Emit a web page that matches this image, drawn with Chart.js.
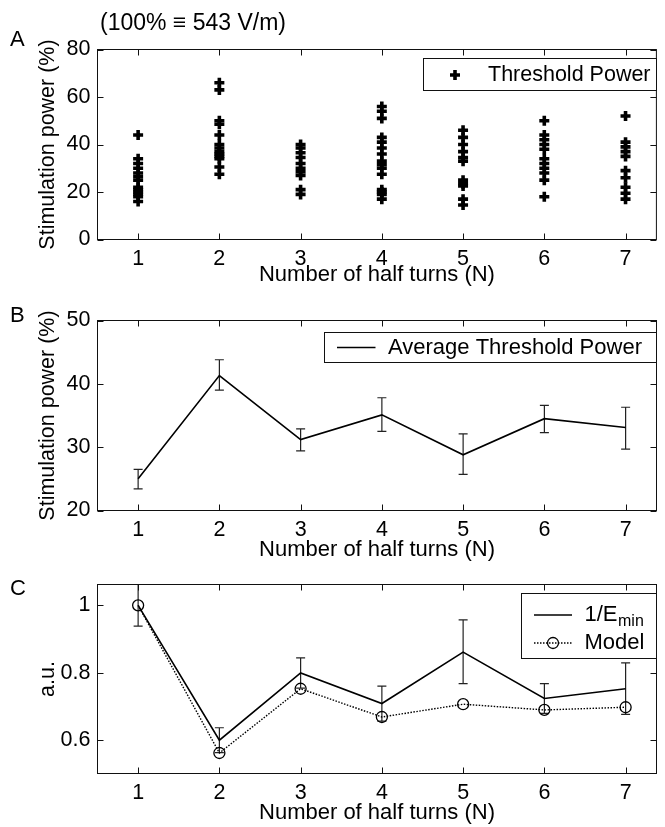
<!DOCTYPE html>
<html><head><meta charset="utf-8">
<script src="https://cdn.jsdelivr.net/npm/chart.js@4.4.1/dist/chart.umd.min.js"></script>
<style>
html,body{margin:0;padding:0;background:#fff;}
#wrap{position:relative;width:665px;height:827px;overflow:hidden;font-family:"Liberation Sans",Arial,sans-serif;color:#000;}
canvas{position:absolute;left:0;}
.lbl{position:absolute;font-size:22px;line-height:22px;white-space:nowrap;}
</style></head><body>
<div id="wrap">
<canvas id="cA" width="665" height="300" style="top:0px"></canvas>
<canvas id="cB" width="665" height="265" style="top:300px"></canvas>
<canvas id="cC" width="665" height="262" style="top:565px"></canvas>
<div class="lbl" style="left:100px;top:11px;font-size:23px">(100% ≡ 543 V/m)</div>
<div class="lbl" style="left:10px;top:28px">A</div>
<div class="lbl" style="left:10px;top:304px">B</div>
<div class="lbl" style="left:10px;top:577px">C</div>
</div>
<script>
// ---------------- DATA ----------------
const halfTurns = [1, 2, 3, 4, 5, 6, 7];
const xTickLabels = ['1', '2', '3', '4', '5', '6', '7'];

// Panel A: individual threshold powers (%) per number of half turns
const thresholdN1 = [44, 34, 32, 30, 28, 26.5, 25, 22, 21, 20, 19, 18, 16];
const thresholdN2 = [66, 63, 50, 48.5, 44, 40, 38.5, 37, 36, 35, 34, 30.5, 27.5];
const thresholdN3 = [40, 38.5, 36.5, 34.5, 32, 30, 28.5, 27, 21, 19];
const thresholdN4 = [56, 54, 51, 43, 41, 38.5, 36, 33, 31.5, 30, 27.5, 21, 20, 19, 17];
const thresholdN5 = [46, 43, 40, 37, 34.5, 33, 25, 23.5, 22.5, 17, 14.5];
const thresholdN6 = [50, 44, 42, 40, 38, 34, 32, 30, 28, 25, 18];
const thresholdN7 = [52, 41, 39, 37, 35, 29, 26, 22, 19.5, 17];
const yTicksA = [0, 20, 40, 60, 80];
const yTickLabelsA = ['0', '20', '40', '60', '80'];

// Panel B: average threshold power with error bars
const avgPower     = [25.0, 41.3, 31.2, 35.1, 28.8, 34.5, 33.1];
const avgPowerHigh = [26.5, 43.8, 32.9, 37.8, 32.1, 36.6, 36.3];
const avgPowerLow  = [23.4, 39.0, 29.4, 32.5, 25.7, 32.3, 29.7];
const yTicksB = [20, 30, 40, 50];
const yTickLabelsB = ['20', '30', '40', '50'];

// Panel C: 1/Emin (with error bars) and model
const invEmin     = [1.0, 0.599, 0.799, 0.708, 0.861, 0.723, 0.752];
const invEminHigh = [1.062, 0.636, 0.844, 0.760, 0.957, 0.767, 0.829];
const invEminLow  = [0.938, 0.562, 0.754, 0.656, 0.767, 0.679, 0.676];
const modelValues = [1.0, 0.561, 0.752, 0.668, 0.706, 0.689, 0.697];
const yTicksC = [0.6, 0.8, 1];
const yTickLabelsC = ['0.6', '0.8', '1'];

// ---------------- STYLE / HELPERS ----------------
const FONT = '"Liberation Sans", Arial, Helvetica, sans-serif';
Chart.defaults.font.family = FONT;
Chart.defaults.color = '#000';
const AX = '#111';

const boxPlugin = {
  id: 'boxPlugin',
  beforeDatasetsDraw(chart, args, o) {
    const ctx = chart.ctx, ca = chart.chartArea;
    const ys = chart.scales.y;
    if (o.err) {
      ctx.save();
      ctx.beginPath(); ctx.rect(ca.left, ca.top - 0.5, ca.right - ca.left, ca.bottom - ca.top + 1); ctx.clip();
      ctx.strokeStyle = '#222'; ctx.lineWidth = 1.2;
      o.err.low.forEach((lo, i) => {
        const px = chart.scales.x.getPixelForValue(o.err.x[i]);
        const yl = ys.getPixelForValue(lo), yh = ys.getPixelForValue(o.err.high[i]);
        ctx.beginPath();
        ctx.moveTo(px, yl); ctx.lineTo(px, yh);
        ctx.moveTo(px - 4.5, yl); ctx.lineTo(px + 4.5, yl);
        ctx.moveTo(px - 4.5, yh); ctx.lineTo(px + 4.5, yh);
        ctx.stroke();
      });
      ctx.restore();
    }
  },
  afterDraw(chart, args, o) {
    const ctx = chart.ctx, ca = chart.chartArea;
    const xs = chart.scales.x, ys = chart.scales.y;
    ctx.save();
    ctx.strokeStyle = AX; ctx.lineWidth = 1;
    ctx.strokeRect(ca.left, ca.top, ca.right - ca.left, ca.bottom - ca.top);
    const L = 6;
    ctx.beginPath();
    xs.ticks.forEach(t => {
      const px = Math.round(xs.getPixelForValue(t.value)) + 0.5;
      ctx.moveTo(px, ca.bottom); ctx.lineTo(px, ca.bottom - L);
      ctx.moveTo(px, ca.top); ctx.lineTo(px, ca.top + L);
    });
    ys.ticks.forEach(t => {
      const py = Math.round(ys.getPixelForValue(t.value)) + 0.5;
      ctx.moveTo(ca.left, py); ctx.lineTo(ca.left + L, py);
      ctx.moveTo(ca.right, py); ctx.lineTo(ca.right - L, py);
    });
    ctx.stroke();
    const lg = o.legend;
    if (lg) {
      ctx.fillStyle = '#fff';
      ctx.fillRect(lg.x, lg.y, lg.w, lg.h);
      ctx.strokeStyle = AX; ctx.lineWidth = 1;
      ctx.strokeRect(lg.x, lg.y, lg.w, lg.h);
      ctx.fillStyle = '#000';
      ctx.textBaseline = 'middle'; ctx.textAlign = 'left';
      lg.rows.forEach(r => {
        const ds = chart.data.datasets[r.ds];
        ctx.save();
        ctx.strokeStyle = '#000';
        if (r.kind === 'cross') {
          ctx.lineWidth = ds.borderWidth;
          ctx.beginPath();
          ctx.moveTo(r.mx - ds.pointRadius, r.y); ctx.lineTo(r.mx + ds.pointRadius, r.y);
          ctx.moveTo(r.mx, r.y - ds.pointRadius); ctx.lineTo(r.mx, r.y + ds.pointRadius);
          ctx.stroke();
        } else {
          ctx.lineWidth = ds.borderWidth;
          ctx.setLineDash(ds.borderDash || []);
          ctx.beginPath(); ctx.moveTo(r.l1, r.y); ctx.lineTo(r.l2, r.y); ctx.stroke();
          ctx.setLineDash([]);
          if (r.kind === 'circleLine') {
            ctx.lineWidth = ds.pointBorderWidth;
            ctx.fillStyle = '#fff';
            ctx.beginPath(); ctx.arc((r.l1 + r.l2) / 2, r.y, ds.pointRadius, 0, Math.PI * 2); ctx.stroke();
          }
        }
        ctx.restore();
        ctx.fillStyle = '#000';
        ctx.font = lg.fs + 'px ' + FONT;
        ctx.fillText(r.text, r.tx, r.y);
        if (r.sub) {
          const w = ctx.measureText(r.text).width;
          ctx.font = '16px ' + FONT;
          ctx.fillText(r.sub, r.tx + w + 0.5, r.y + 7);
        }
      });
    }
    ctx.restore();
  }
};

function makeScales(cfg) {
  return {
    x: {
      type: 'linear', min: 0.5, max: 7.38,
      afterBuildTicks: s => { s.ticks = halfTurns.map(v => ({ value: v })); },
      afterFit: s => { s.height = cfg.xh; },
      grid: { display: false, drawTicks: false },
      border: { display: false },
      ticks: { padding: 8.5, autoSkip: false, maxRotation: 0, font: { size: 21.5, lineHeight: 1 }, color: '#000',
               callback: (v, i) => xTickLabels[i] },
      title: { display: true, text: 'Number of half turns (N)', color: '#000',
               font: { size: 22, lineHeight: 1 }, padding: { top: 0, bottom: cfg.tpb } }
    },
    y: {
      type: 'linear', min: cfg.ymin, max: cfg.ymax,
      afterBuildTicks: s => { s.ticks = cfg.yt.map(v => ({ value: v })); },
      afterFit: s => { s.width = 97.5; },
      grid: { display: false, drawTicks: false },
      border: { display: false },
      ticks: { padding: 7, font: { size: 21.5, lineHeight: 1 }, color: '#000',
               callback: (v, i) => cfg.yl[i] },
      title: { display: true, text: cfg.ytitle, color: '#000',
               font: { size: 21.5, lineHeight: 1 }, padding: { top: 37.5, bottom: 0 } }
    }
  };
}

const baseOpts = (pad, scales, plug) => ({
  responsive: false, animation: false, devicePixelRatio: 1,
  layout: { padding: { top: pad, left: 0, right: 8.5, bottom: 0 } },
  plugins: { legend: { display: false }, tooltip: { enabled: false }, boxPlugin: plug },
  scales: scales
});

// ---------------- PANEL A ----------------
const colsA = [thresholdN1, thresholdN2, thresholdN3, thresholdN4, thresholdN5, thresholdN6, thresholdN7];
const ptsA = [];
colsA.forEach((col, i) => col.forEach(v => ptsA.push({ x: halfTurns[i], y: v })));
new Chart(document.getElementById('cA'), {
  type: 'scatter',
  data: { datasets: [{ label: 'Threshold Power', data: ptsA, pointStyle: 'cross', pointRadius: 5,
    borderWidth: 3.6, borderColor: '#000', backgroundColor: '#000', pointHoverRadius: 5 }] },
  options: baseOpts(49.5, makeScales({ xh: 60.5, tpb: 14, ymin: 0, ymax: 80, yt: yTicksA, yl: yTickLabelsA,
    ytitle: 'Stimulation power (%)' }),
    { legend: { x: 423.5, y: 58.5, w: 233, h: 32, fs: 21.5,
      rows: [{ ds: 0, kind: 'cross', mx: 455, y: 75, text: 'Threshold Power', tx: 488 }] } }),
  plugins: [boxPlugin]
});

// ---------------- PANEL B ----------------
new Chart(document.getElementById('cB'), {
  type: 'line',
  data: { labels: halfTurns, datasets: [{ label: 'Average Threshold Power',
    data: halfTurns.map((x, i) => ({ x: x, y: avgPower[i] })),
    borderColor: '#000', borderWidth: 1.6, pointRadius: 0, tension: 0, fill: false }] },
  options: baseOpts(20.5, makeScales({ xh: 54.5, tpb: 4, ymin: 20, ymax: 50, yt: yTicksB, yl: yTickLabelsB,
    ytitle: 'Stimulation power (%)' }),
    { err: { x: halfTurns, low: avgPowerLow, high: avgPowerHigh },
      legend: { x: 324.5, y: 32.5, w: 332, h: 30, fs: 22,
      rows: [{ ds: 0, kind: 'line', l1: 337, l2: 375.5, y: 47.5, text: 'Average Threshold Power', tx: 388 }] } }),
  plugins: [boxPlugin]
});

// ---------------- PANEL C ----------------
new Chart(document.getElementById('cC'), {
  type: 'line',
  data: { labels: halfTurns, datasets: [
    { label: '1/Emin', data: halfTurns.map((x, i) => ({ x: x, y: invEmin[i] })),
      borderColor: '#000', borderWidth: 1.6, pointRadius: 0, tension: 0, fill: false },
    { label: 'Model', data: halfTurns.map((x, i) => ({ x: x, y: modelValues[i] })),
      borderColor: '#000', borderWidth: 1.4, borderDash: [1.5, 1.5], tension: 0, fill: false,
      pointStyle: 'circle', pointRadius: 5.5, pointBorderWidth: 1.3, pointBorderColor: '#000',
      pointBackgroundColor: 'rgba(0,0,0,0)' }
  ] },
  options: baseOpts(19.5, makeScales({ xh: 53.5, tpb: 3, ymin: 0.5, ymax: 1.062, yt: yTicksC, yl: yTickLabelsC,
    ytitle: 'a.u.' }),
    { err: { x: halfTurns, low: invEminLow, high: invEminHigh },
      legend: { x: 521.5, y: 28.5, w: 135, h: 65, fs: 22,
      rows: [
        { ds: 0, kind: 'line', l1: 534, l2: 572, y: 50, text: '1/E', sub: 'min', tx: 584.5 },
        { ds: 1, kind: 'circleLine', l1: 534, l2: 572, y: 78, text: 'Model', tx: 584.5 }
      ] } }),
  plugins: [boxPlugin]
});
</script>
</body></html>
